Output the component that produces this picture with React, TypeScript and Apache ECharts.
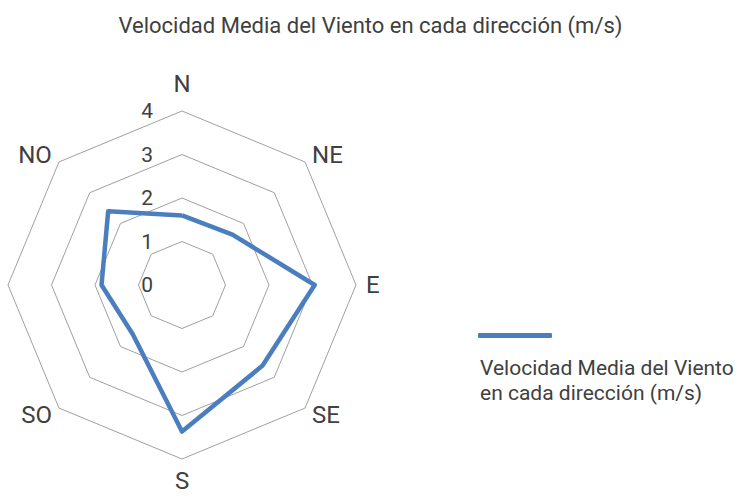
import React, { useEffect, useRef } from "react";
import * as echarts from "echarts";

const TITLE = "Velocidad Media del Viento en cada dirección (m/s)";
const SERIES_NAME = "Velocidad Media del Viento en cada dirección (m/s)";
// Indicators listed counter-clockwise from the top (ECharts radar order);
// the west label ("O") is not visible in the reference.
const directions = ["N", "NO", "", "SO", "S", "SE", "E", "NE"];
const speeds = [1.6, 2.4, 1.85, 1.6, 3.37, 2.62, 3.05, 1.64];
const axisMax = 4;

const FONT = "Roboto, 'Noto Sans', sans-serif";
const TEXT = "#404040";

export default function App() {
  const ref = useRef<HTMLDivElement>(null);
  useEffect(() => {
    if (!ref.current) return;
    const chart = echarts.init(ref.current, undefined, { renderer: "svg" });
    const indicator = directions.map((d, i) => {
      const ind: any = { name: d, min: 0, max: axisMax };
      if (i === 0) {
        ind.nameGap = 15;
        ind.axisLabel = {
          show: true,
          margin: 29,
          fontSize: 21,
          color: TEXT,
          fontFamily: FONT,
          showMinLabel: true,
          showMaxLabel: true,
        };
      }
      return ind;
    });
    chart.setOption({
      animation: false,
      backgroundColor: "#ffffff",
      title: {
        text: TITLE,
        left: "center",
        top: 9,
        textStyle: { fontSize: 22, fontWeight: "normal", color: TEXT, fontFamily: FONT },
      },
      legend: [
        {
          data: [SERIES_NAME],
          left: 473,
          top: 328,
          itemWidth: 74,
          itemHeight: 5,
          icon: "roundRect",
          formatter: () => "",
          selectedMode: false,
        },
        {
          data: [SERIES_NAME],
          left: 470,
          top: 350,
          itemWidth: 0,
          icon: "none",
          selectedMode: false,
          formatter: () => "Velocidad Media del Viento\nen cada dirección (m/s)",
          textStyle: { fontSize: 21, lineHeight: 25, color: TEXT, fontFamily: FONT },
        },
      ],
      radar: {
        center: [182, 285],
        radius: 174,
        startAngle: 90,
        splitNumber: 4,
        shape: "polygon",
        nameGap: 10,
        indicator,
        axisName: { color: TEXT, fontSize: 24, fontFamily: FONT },
        axisLine: { show: false },
        axisTick: { show: false },
        axisLabel: { show: false },
        splitLine: { lineStyle: { color: "#a0a0a0", width: 1 } },
        splitArea: { show: false },
      },
      series: [
        {
          name: SERIES_NAME,
          type: "radar",
          symbol: "none",
          lineStyle: { color: "#4a7ebf", width: 4.5 },
          itemStyle: { color: "#4a7ebf" },
          data: [{ value: speeds, name: SERIES_NAME }],
        },
      ],
    });
    return () => chart.dispose();
  }, []);
  return (
    <div
      ref={ref}
      style={{ position: "fixed", left: 0, top: 0, width: 741, height: 501 }}
    />
  );
}
